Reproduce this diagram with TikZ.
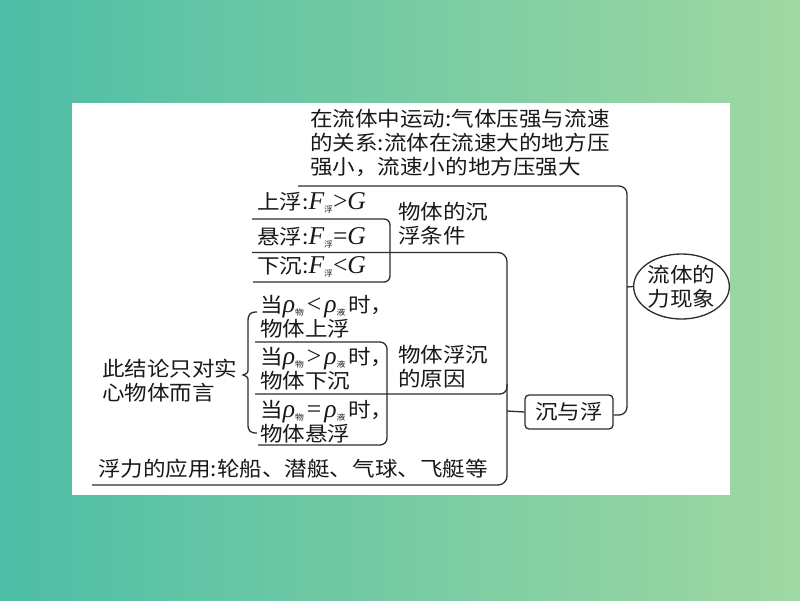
\documentclass[tikz,border=0pt]{standalone}
\usepackage{fontspec}
\setmainfont{Noto Sans CJK SC}[FakeStretch=1.1]
\newfontfamily\latfont{Liberation Serif}[Scale=1.25]
\usetikzlibrary{shapes.geometric}
\definecolor{bgl}{RGB}{77,190,166}
\definecolor{bgr}{RGB}{160,216,162}
\definecolor{lnc}{RGB}{45,45,45}
\definecolor{ink}{RGB}{25,25,25}
\newcommand{\lit}[1]{{\latfont\itshape #1}}
\newcommand{\lsy}[1]{{\latfont #1}}
\newcommand{\sbs}[1]{\raisebox{-3pt}{\fontsize{8}{8}\selectfont #1}}
\tikzset{
  txt/.style={anchor=west, inner sep=0pt, align=left, text=ink},
  ln/.style={draw=lnc, line width=1.3pt},
}
\begin{document}
\begin{tikzpicture}[x=1pt, y=-1pt, font={\fontsize{20.5}{24}\selectfont}]
\fill[left color=bgl, right color=bgr] (0,0) rectangle (800,600);
\useasboundingbox (0,0) rectangle (800,600);
\fill[white] (72,103) rectangle (730,495);

% texts
\node[txt] (top) at (310,143) {在流体中运动:气体压强与流速\\的关系:流体在流速大的地方压\\强小，流速小的地方压强大};
\node[txt] (up) at (257,203) {上浮:\lit{F}\sbs{浮}\lsy{>}\lit{G}};
\node[txt] (sus) at (257,238) {悬浮:\lit{F}\sbs{浮}\lsy{=}\lit{G}};
\node[txt] (down) at (257,267) {下沉:\lit{F}\sbs{浮}\lsy{<}\lit{G}};
\node[txt] (cond) at (398,224) {物体的沉\\浮条件};
\node[txt] (r1) at (260,316.5) {当\lit{ρ}\sbs{物}\hspace{3pt}\lsy{<}\hspace{3pt}\lit{ρ}\sbs{液}\hspace{3pt}时，\\物体上浮};
\node[txt] (r2) at (260,368.5) {当\lit{ρ}\sbs{物}\hspace{3pt}\lsy{>}\hspace{3pt}\lit{ρ}\sbs{液}\hspace{3pt}时，\\物体下沉};
\node[txt] (r3) at (260,421.5) {当\lit{ρ}\sbs{物}\hspace{3pt}\lsy{=}\hspace{3pt}\lit{ρ}\sbs{液}\hspace{3pt}时，\\物体悬浮};
\node[txt] (note) at (102,381) {此结论只对实\\心物体而言};
\node[txt] (why) at (398,366.5) {物体浮沉\\的原因};
\node[txt] (app) at (98,469) {浮力的应用:轮船、潜艇、气球、飞艇等};
\node[draw=lnc, line width=1.3pt, rounded corners=4pt, minimum width=88pt, minimum height=34pt, inner sep=0pt, text=ink] (box) at (569,412) {沉与浮};
\node[ellipse, draw=lnc, line width=1.3pt, minimum width=95pt, minimum height=65pt, inner sep=0pt, align=center, text=ink] (ell) at (681.5,286.5) {流体的\\力现象};

% connectors
\coordinate (t0) at (298,186);
\coordinate (rv) at (627,287);
\draw[ln, rounded corners=8pt] (t0) -- (627,186) -- (627,415) -- (box.east |- 0,415);
\draw[ln] (rv) -- (ell.west);
\draw[ln, rounded corners=6pt] (252,219) -- (390,219) -- (390,282) -- (253,282);
\draw[ln, rounded corners=9pt] (252,252.5) -- (507,252.5) -- (507,485) -- (92,485);
\draw[ln, rounded corners=7pt] (255,394) -- (507,394) -- (507,384);
\draw[ln] (507,411) -- (box.west);
\draw[ln, rounded corners=7pt] (255,342) -- (387,342) -- (387,445) -- (258,445);
% brace
\draw[ln] (257,312) .. controls (250,312) and (248,314) .. (248,322) -- (248,368)
  .. controls (248,373) .. (243,375) .. controls (248,377) .. (248,382) -- (248,424)
  .. controls (248,431) and (250,433) .. (257,433);
\end{tikzpicture}
\end{document}
